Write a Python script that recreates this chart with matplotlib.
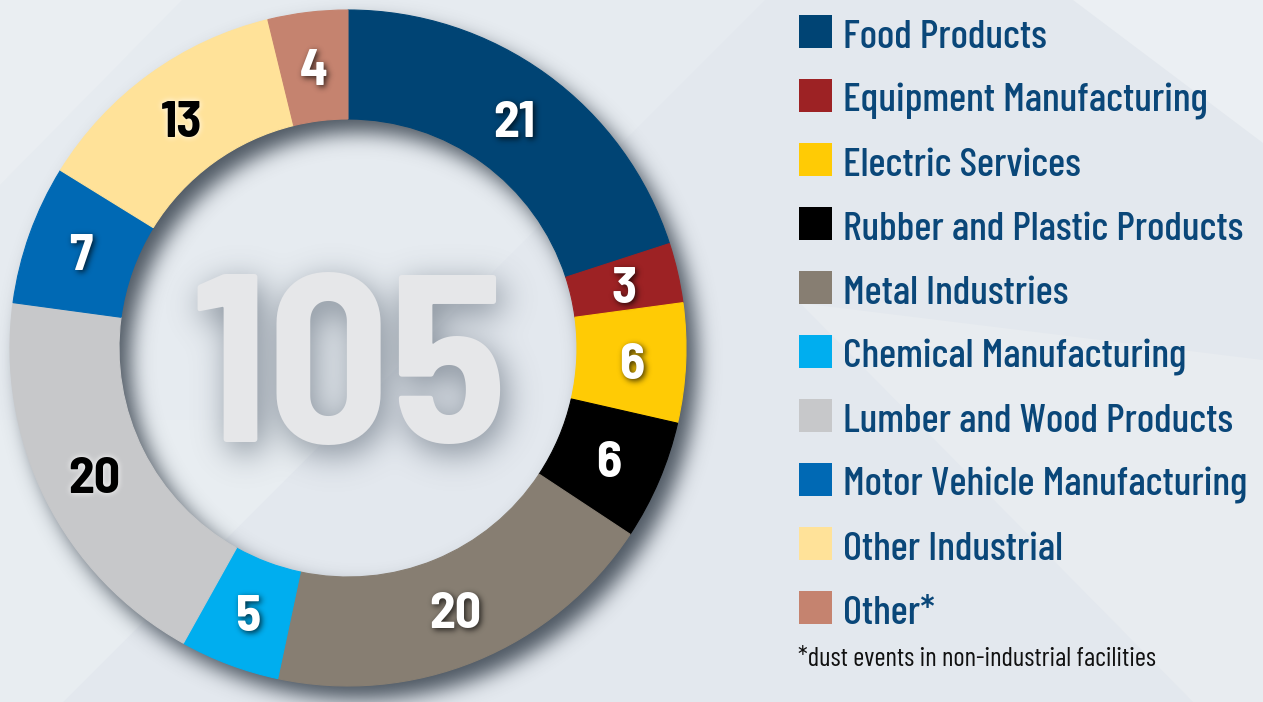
import numpy as np
import matplotlib
matplotlib.use('Agg')
import matplotlib.pyplot as plt
from matplotlib import font_manager as fm
from matplotlib.patches import Polygon, Rectangle

# ---------------- data ----------------
categories = ['Food Products', 'Equipment Manufacturing', 'Electric Services',
              'Rubber and Plastic Products', 'Metal Industries', 'Chemical Manufacturing',
              'Lumber and Wood Products', 'Motor Vehicle Manufacturing',
              'Other Industrial', 'Other*']
values = [21, 3, 6, 6, 20, 5, 20, 7, 13, 4]
colors = ['#004474', '#9d2224', '#ffcb05', '#000000', '#877e72',
          '#00aeef', '#c7c8ca', '#0069b4', '#ffe299', '#c5836f']
label_colors = ['white', 'white', 'white', 'white', 'white',
                'white', 'black', 'white', 'black', 'white']
total_label = str(sum(values))
footnote = '*dust events in non-industrial facilities'

# ---------------- style ----------------
W, H, DPI = 1263, 702, 100
_names = {f.name for f in fm.fontManager.ttflist}
FONT = next(n for n in ['Barlow Condensed', 'Roboto Condensed', 'Asap Condensed',
                        'Archivo Narrow', 'DejaVu Sans'] if n in _names)
NUM_FONT = next(n for n in ['Barlow Semi Condensed', FONT] if n in _names)
plt.rcParams['font.family'] = [FONT, 'DejaVu Sans']
CAP = 0.70  # cap height / em

BG = '#e3e8ee'
LEGEND_TEXT = '#0a4779'
CX, CY = 348, H - 348
R_OUT, R_IN = 338, 229
R_LAB = (R_OUT + R_IN) / 2


def measure(s, fs, weight, family):
    f = plt.figure(figsize=(W / DPI, H / DPI), dpi=DPI)
    t = f.text(0, 0, s, fontsize=fs, fontweight=weight, family=[family, 'DejaVu Sans'])
    f.canvas.draw()
    w = t.get_window_extent(f.canvas.get_renderer()).width
    plt.close(f)
    return w


def fit(s, target_px, weight, family, fs0=30):
    return fs0 * target_px / measure(s, fs0, weight, family)


LAB_FS = fit('20', 52, 'bold', NUM_FONT)
BIG_FS = fit(total_label, 316, 'bold', NUM_FONT)
LEG_FS = (fit('Motor Vehicle Manufacturing', 409, 500, FONT) + fit('Food Products', 202, 500, FONT)) / 2
FOOT_FS = fit(footnote, 357, 'normal', FONT)
LAB_CAP = CAP * LAB_FS * DPI / 72
BIG_BASE = H - 442


def new_canvas():
    fig = plt.figure(figsize=(W / DPI, H / DPI), dpi=DPI)
    ax = fig.add_axes([0, 0, 1, 1])
    ax.axis('off')
    return fig, ax


def finish(ax):
    ax.set_xlim(0, W)
    ax.set_ylim(0, H)
    ax.set_aspect('auto')


def draw_ring(ax, cols, z=2):
    wedges, _ = ax.pie(values, colors=cols, radius=R_OUT, center=(CX, CY),
                       startangle=90, counterclock=False,
                       wedgeprops=dict(width=R_OUT - R_IN, linewidth=0.8))
    for w, c in zip(wedges, cols):
        w.set_edgecolor(c)
        w.set_zorder(z)
    finish(ax)
    return wedges


def label_positions(ws):
    pos = []
    for w in ws:
        th = np.deg2rad((w.theta1 + w.theta2) / 2)
        pos.append((CX + R_LAB * np.cos(th), CY + R_LAB * np.sin(th)))
    return pos


def draw_labels(ax, which, z=6, color_override=None):
    ws = draw_ring(ax, ['none'] * len(values), z=-10)
    for w in ws:
        w.set_visible(False)
    for (x, y), v, c, keep in zip(label_positions(ws), values, label_colors, which):
        if not keep:
            continue
        ax.text(x, y - LAB_CAP / 2, str(v), ha='center', va='baseline',
                fontsize=LAB_FS, fontweight='bold', family=[NUM_FONT, 'DejaVu Sans'],
                color=color_override or c, zorder=z)
    finish(ax)


def draw_big(ax, color, z=4):
    ax.text(CX + 1, BIG_BASE, total_label, ha='center', va='baseline',
            fontsize=BIG_FS, fontweight='bold', family=[NUM_FONT, 'DejaVu Sans'],
            color=color, zorder=z)


def render_alpha(draw):
    fig, ax = new_canvas()
    fig.patch.set_alpha(0)
    ax.patch.set_alpha(0)
    draw(ax)
    finish(ax)
    fig.canvas.draw()
    a = np.asarray(fig.canvas.buffer_rgba())[:, :, 3].astype(float) / 255.0
    plt.close(fig)
    return a


def blur_shift(a, sigma, dx, dy):
    p = int(3 * sigma + max(abs(dx), abs(dy)) + 5)
    b = np.pad(a, p)
    hh, ww = b.shape
    fy = np.fft.fftfreq(hh)[:, None]
    fx = np.fft.rfftfreq(ww)[None, :]
    g = np.exp(-2 * np.pi ** 2 * sigma ** 2 * (fx ** 2 + fy ** 2))
    out = np.fft.irfft2(np.fft.rfft2(b) * g, s=b.shape)
    out = np.roll(out, (dy, dx), axis=(0, 1))
    return np.clip(out[p:p + H, p:p + W], 0, 1)


def rgba_layer(alpha, rgb, strength):
    img = np.zeros((H, W, 4))
    img[..., 0], img[..., 1], img[..., 2] = rgb
    img[..., 3] = np.clip(alpha * strength, 0, 1)
    return img


# ---------------- masks ----------------
ring_mask = render_alpha(lambda ax: draw_ring(ax, ['black'] * len(values)))
big_mask = render_alpha(lambda ax: draw_big(ax, 'black'))
white_mask = render_alpha(lambda ax: draw_labels(ax, [c == 'white' for c in label_colors], color_override='black'))
dark_mask = render_alpha(lambda ax: draw_labels(ax, [c == 'black' for c in label_colors], color_override='black'))

ring_sh = rgba_layer(blur_shift(ring_mask, 10, 11, 13), (0.16, 0.20, 0.25), 0.8)
big_sh = rgba_layer(blur_shift(big_mask, 16, 5, 9), (0.25, 0.30, 0.36), 0.6)
white_sh = rgba_layer(blur_shift(white_mask, 3, 2, 2), (0.0, 0.0, 0.0), 0.75)
dark_sh = rgba_layer(blur_shift(dark_mask, 3, 0, 0), (1.0, 1.0, 1.0), 1.0)

# ---------------- main figure ----------------
fig, ax = new_canvas()
fig.patch.set_facecolor(BG)
ax.add_patch(Rectangle((0, 0), W, H, facecolor=BG, edgecolor='none', zorder=0))


def poly(pts_img, color):
    ax.add_patch(Polygon([(x, H - y) for x, y in pts_img], closed=True,
                         facecolor=color, edgecolor='none', zorder=0.1))


poly([(0, 0), (765, 0), (0, 765)], '#e6ebf0')
poly([(0, 0), (182, 0), (0, 185)], '#eaeef2')
poly([(0, 420), (0, 702), (63, 702), (345, 420)], '#e8edf1')
poly([(1073, 0), (1263, 0), (1263, 143)], '#ebeff3')
poly([(800, 303), (1193, 702), (1263, 702), (1263, 360)], '#e8ecf0')

ax.imshow(ring_sh, extent=(0, W, 0, H), origin='upper', zorder=1, interpolation='bilinear')
draw_ring(ax, colors, z=2)
ax.imshow(big_sh, extent=(0, W, 0, H), origin='upper', zorder=3, interpolation='bilinear')
draw_big(ax, '#e6e7e9', z=4)
ax.imshow(white_sh, extent=(0, W, 0, H), origin='upper', zorder=5, interpolation='bilinear')
ax.imshow(dark_sh, extent=(0, W, 0, H), origin='upper', zorder=5, interpolation='bilinear')
draw_labels(ax, [True] * len(values), z=6)

# legend
SQ = 33
for i, (name, c) in enumerate(zip(categories, colors)):
    top = 15 + 64 * i
    ax.add_patch(Rectangle((799, H - top - SQ), SQ, SQ, facecolor=c,
                           edgecolor='none', zorder=7))
    ax.text(843, H - top - SQ, name, ha='left', va='baseline', fontsize=LEG_FS,
            fontweight=500, color=LEGEND_TEXT, zorder=7)
ax.text(798, H - 666, footnote, ha='left', va='baseline', fontsize=FOOT_FS,
        color='#111111', zorder=7)

finish(ax)
fig.savefig('out.png', dpi=DPI, facecolor=BG)
